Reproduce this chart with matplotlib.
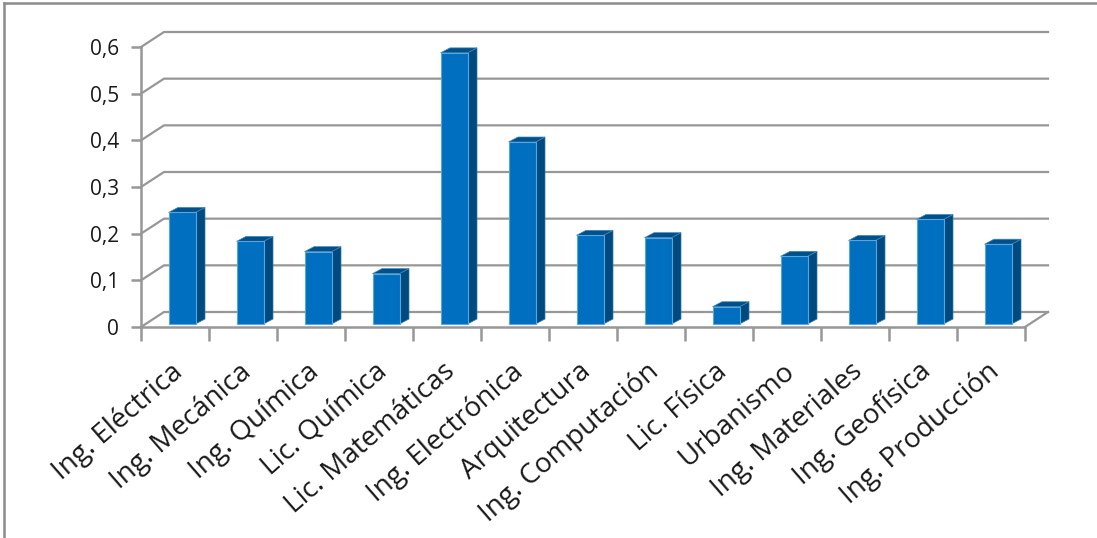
import matplotlib
matplotlib.use('Agg')
import matplotlib.pyplot as plt
from matplotlib.patches import Polygon

plt.rcParams['font.family'] = ['Open Sans', 'DejaVu Sans']

carreras = ['Ing. Eléctrica', 'Ing. Mecánica', 'Ing. Química', 'Lic. Química',
            'Lic. Matemáticas', 'Ing. Electrónica', 'Arquitectura',
            'Ing. Computación', 'Lic. Física', 'Urbanismo', 'Ing. Materiales',
            'Ing. Geofísica', 'Ing. Producción']
valores = [0.239, 0.177, 0.155, 0.108, 0.581, 0.390, 0.190, 0.185, 0.037,
           0.145, 0.179, 0.224, 0.171]
yticks = [0, 0.1, 0.2, 0.3, 0.4, 0.5, 0.6]
ylabels = ['0', '0,1', '0,2', '0,3', '0,4', '0,5', '0,6']

gris = '#979797'
W, H = 1097, 538
fig = plt.figure(figsize=(W/100, H/100), dpi=100)
ax = fig.add_axes([141/W, (H-327)/H, 884/W, 280/H])
ax.set_xlim(0, 13)
ax.set_ylim(0, 0.6)
ax.set_frame_on(False)

# pixels to data units, for the fake 3D
px = 13/884
py = 0.6/280
fondo_x, fondo_y = 23*px, 15*py
prof_x, prof_y = 9.5*px, 5*py
base = 3.0*py
ancho = 27*px
shift = 7*px

# back wall and floor
for v in yticks:
    ax.plot([0, fondo_x, 13+fondo_x], [v, v+fondo_y, v+fondo_y], color=gris,
            lw=1.6, clip_on=False, zorder=1)
ax.plot([13, 13+fondo_x], [0, fondo_y], color=gris, lw=1.6, clip_on=False, zorder=1)
ax.plot([0, 0], [0, 0.6], color=gris, lw=1.8, clip_on=False, zorder=2)
ax.plot([0, 13], [0, 0], color=gris, lw=1.8, clip_on=False, zorder=2)

# bars
for i, v in enumerate(valores):
    x0 = i + 0.5 + shift - ancho/2
    x1 = x0 + ancho
    top = base + v
    ax.add_patch(Polygon([(x1, base), (x1+prof_x, base+prof_y), (x1+prof_x, top+prof_y), (x1, top)],
                         facecolor='#004A80', edgecolor='#2F78AE', lw=0.5, zorder=3, clip_on=False))
    ax.add_patch(Polygon([(x0, top), (x0+prof_x, top+prof_y), (x1+prof_x, top+prof_y), (x1, top)],
                         facecolor='#00508C', edgecolor='#3F88BE', lw=0.5, zorder=3, clip_on=False))
    ax.bar(x0 + ancho/2, v, ancho, bottom=base, color='#006FC0', edgecolor='#5AA5DC',
           lw=0.8, zorder=4, clip_on=False)

ax.set_yticks(yticks)
ax.set_yticklabels(ylabels, fontsize=15, color='#1a1a1a')
ax.tick_params(axis='y', length=7, width=1.8, color=gris, pad=9)

ax.set_xticks(range(14))
ax.set_xticklabels([])
ax.tick_params(axis='x', which='major', length=10, width=1.8, color=gris)
ax.set_xticks([i+0.5-5*px for i in range(13)], minor=True)
ax.set_xticklabels(carreras, minor=True, fontsize=20, rotation=41, ha='right',
                   rotation_mode='anchor', color='#1a1a1a')
ax.tick_params(axis='x', which='minor', length=0, pad=22)

# outer frame of the pasted chart
fig.add_artist(plt.Line2D([4/W, 4/W], [0, (H-3)/H], color='#8c8c8c', lw=1.8))
fig.add_artist(plt.Line2D([4/W, 1], [(H-3)/H, (H-3)/H], color='#8c8c8c', lw=1.8))

fig.savefig('out.png', dpi=100)
